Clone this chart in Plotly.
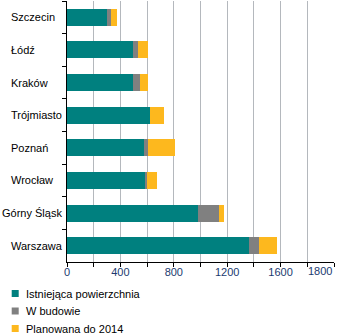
import plotly.graph_objects as go

categories = ["Szczecin", "Łódź", "Kraków", "Trójmiasto", "Poznań", "Wrocław", "Górny Śląsk", "Warszawa"]
existing = [303, 498, 498, 625, 573, 583, 978, 1363]
under_construction = [25, 32, 52, 0, 37, 15, 160, 75]
planned = [45, 75, 55, 100, 198, 75, 37, 135]
series_names = ["Istniejąca powierzchnia", "W budowie", "Planowana do 2014"]
series_colors = ["#00807f", "#808080", "#fdb81e"]
tick_values = [0, 200, 400, 600, 800, 1000, 1200, 1400, 1600, 1800, 2000]
tick_text = ["0", "", "400", "", "800", "", "1200", "", "1600", "", ""]
last_label = "1800"

W, H = 340, 336
L, R, T, B = 67, 6, 1, 74
PW, PH = W - L - R, H - T - B
FONT = "Liberation Sans, Arial, sans-serif"
TICKCOL = "#1b3a6f"

def px_x(px):
    return (px - L) / PW

def px_y(py):
    return (T + PH - py) / PH

fig = go.Figure()
for vals, name, col in zip([existing, under_construction, planned], series_names, series_colors):
    fig.add_trace(go.Bar(y=categories, x=vals, name=name, orientation="h",
                         marker=dict(color=col, line=dict(width=0)), showlegend=False))

annotations = []
for c in categories:
    long_label = len(c) > 10
    annotations.append(dict(x=px_x(64 if long_label else 9), xref="paper", y=c, yref="y", text=c,
                            showarrow=False, xanchor="right" if long_label else "left", yanchor="middle",
                            font=dict(family=FONT, size=11, color="#000000")))
annotations.append(dict(x=2000, xref="x", y=px_y(271), yref="paper", text=last_label, showarrow=False,
                        xanchor="right", yanchor="middle", font=dict(family=FONT, size=11, color=TICKCOL)))

shapes = []
legend_y = [293.5, 311, 328.5]
for name, col, ly in zip(series_names, series_colors, legend_y):
    shapes.append(dict(type="rect", xref="paper", yref="paper", x0=px_x(11.7), x1=px_x(18.7),
                       y0=px_y(ly + 3.5), y1=px_y(ly - 3.5), fillcolor=col, line=dict(width=0)))
    annotations.append(dict(x=px_x(23.5), xref="paper", y=px_y(ly), yref="paper", text=name, showarrow=False,
                            xanchor="left", yanchor="middle", font=dict(family=FONT, size=11, color="#000000")))

fig.update_layout(
    width=W, height=H, margin=dict(l=L, r=R, t=T, b=B, pad=0),
    barmode="stack", bargap=0.48,
    paper_bgcolor="white", plot_bgcolor="white",
    font=dict(family=FONT, size=11, color="#000000"),
    xaxis=dict(range=[0, 2000], tickvals=tick_values, ticktext=tick_text, showgrid=True,
               gridcolor="#b4b8bd", gridwidth=1, zeroline=False, showline=True, linecolor="#000000",
               linewidth=1, ticks="outside", ticklen=4, tickcolor="#000000", ticklabelstandoff=-4,
               tickfont=dict(family=FONT, size=11, color=TICKCOL), fixedrange=True),
    yaxis=dict(categoryorder="array", categoryarray=categories, autorange="reversed",
               showticklabels=False, ticks="outside", tickson="boundaries", ticklen=4,
               tickcolor="#000000", showline=True, linecolor="#000000", linewidth=1,
               showgrid=False, zeroline=False),
    annotations=annotations, shapes=shapes, showlegend=False,
)
fig.write_html("out.html")
